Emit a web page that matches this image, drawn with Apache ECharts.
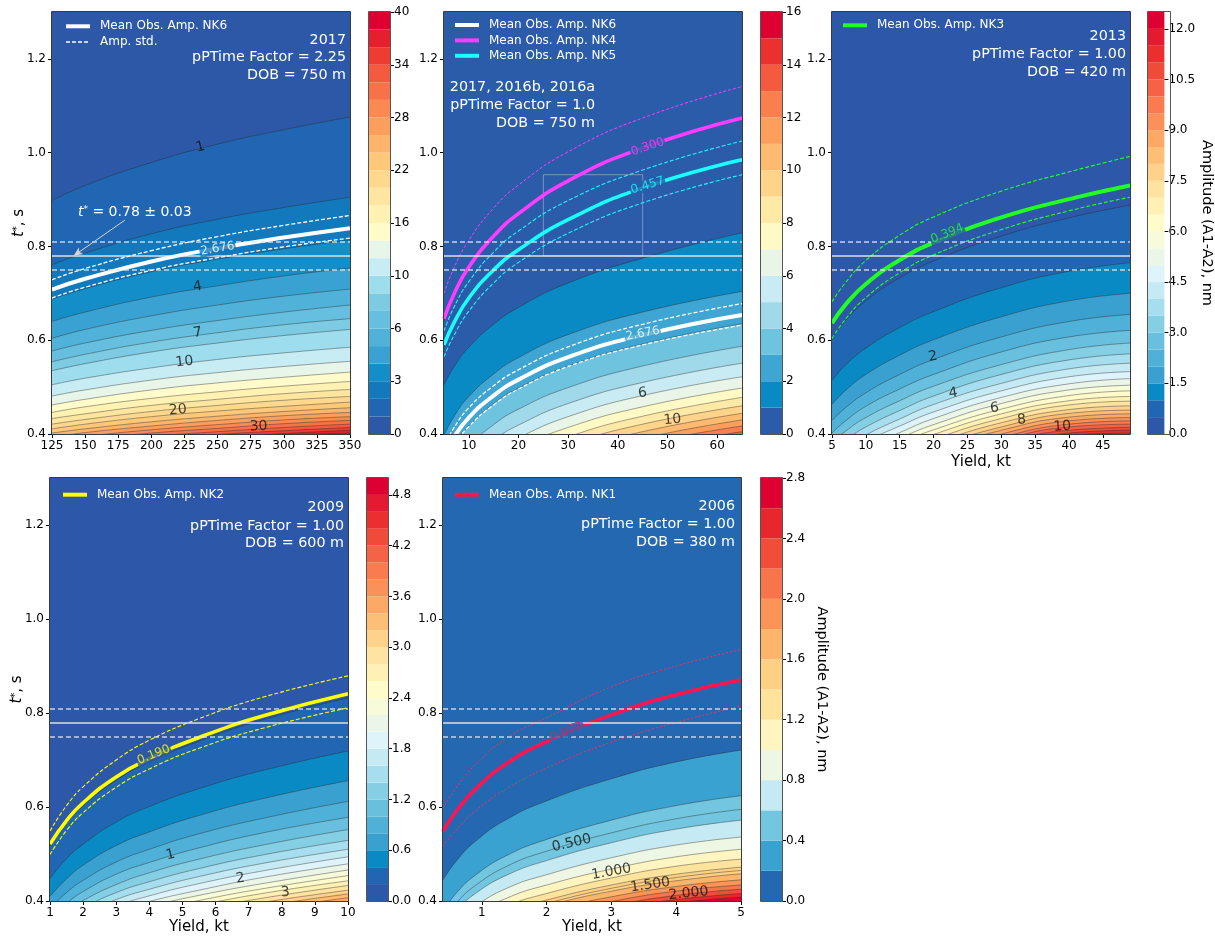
<!DOCTYPE html>
<html>
<head>
<meta charset="utf-8">
<title>t* versus yield</title>
<script src="https://cdn.jsdelivr.net/npm/echarts@6/dist/echarts.min.js"></script>
<style>
html, body { margin: 0; padding: 0; background: #fff; }
#chart { width: 1215px; height: 936px; }
</style>
</head>
<body>
<div id="chart"></div>
<script>
var FONT = 'DejaVu Sans';

// observed t* and its spread (horizontal lines in every panel)
var tStarObs = 0.78;
var tStarStd = 0.03;
var tTicks = [0.4, 0.6, 0.8, 1.0, 1.2];

// ---------- panel 1 : 2017, pPTime factor 2.25 ----------
var p1Yield = [125, 150, 200, 250, 300, 350];
var p1XTicks = [125, 150, 175, 200, 225, 250, 275, 300, 325, 350];
var p1Levels = [0, 1, 2, 3, 4, 5, 6, 7, 8, 10, 12, 14, 16, 18, 20, 22, 24, 26, 28, 30, 32, 34, 36, 38, 40];
// t* of each contour (levels 1 .. 38) at p1Yield
var p1Contours = [
    [0.898, 0.930, 0.979, 1.018, 1.049, 1.076],
    [0.761, 0.786, 0.827, 0.858, 0.883, 0.905],
    [0.688, 0.710, 0.746, 0.773, 0.795, 0.814],
    [0.640, 0.660, 0.692, 0.716, 0.737, 0.754],
    [0.604, 0.623, 0.652, 0.675, 0.694, 0.709],
    [0.577, 0.594, 0.621, 0.642, 0.660, 0.675],
    [0.554, 0.570, 0.596, 0.616, 0.633, 0.646],
    [0.535, 0.550, 0.575, 0.594, 0.610, 0.623],
    [0.505, 0.519, 0.541, 0.559, 0.573, 0.585],
    [0.481, 0.494, 0.515, 0.531, 0.544, 0.555],
    [0.462, 0.474, 0.494, 0.509, 0.521, 0.532],
    [0.446, 0.458, 0.476, 0.490, 0.502, 0.512],
    [0.433, 0.443, 0.461, 0.474, 0.486, 0.495],
    [0.421, 0.431, 0.448, 0.461, 0.472, 0.480],
    [0.411, 0.421, 0.437, 0.449, 0.459, 0.468],
    [0.402, 0.411, 0.426, 0.438, 0.448, 0.456],
    [0.393, 0.403, 0.417, 0.429, 0.439, 0.446],
    [0.386, 0.395, 0.409, 0.420, 0.430, 0.437],
    [0.380, 0.388, 0.402, 0.412, 0.422, 0.429],
    [0.373, 0.382, 0.395, 0.405, 0.414, 0.421],
    [0.368, 0.376, 0.389, 0.399, 0.407, 0.414],
    [0.363, 0.370, 0.383, 0.393, 0.401, 0.408],
    [0.358, 0.366, 0.378, 0.387, 0.395, 0.402]
];
var p1Nk6 = [0.708, 0.731, 0.768, 0.796, 0.819, 0.839];
var p1Nk6Hi = [0.729, 0.753, 0.791, 0.821, 0.845, 0.866];
var p1Nk6Lo = [0.690, 0.713, 0.749, 0.776, 0.799, 0.818];
var p1LabelText = ['1', '4', '7', '10', '20', '30', '2.676'];
var p1LabelAt = [[237, 1.012], [235, 0.714], [235, 0.616], [225, 0.554], [220, 0.451], [281, 0.416], [250, 0.795]];
var p1Arrow = [[180, 0.856], [141.4, 0.78]];

// ---------- panel 2 : 2017, 2016b, 2016a, pPTime factor 1.0 ----------
var p2Yield = [5, 7, 10, 15, 20, 30, 45, 65];
var p2XTicks = [10, 20, 30, 40, 50, 60];
var p2Levels = [0, 1, 2, 3, 4, 5, 6, 7, 8, 9, 10, 11, 12, 13, 14, 15, 16];
var p2Contours = [
    [0.504, 0.543, 0.585, 0.634, 0.670, 0.722, 0.775, 0.829],
    [0.397, 0.437, 0.480, 0.528, 0.563, 0.612, 0.660, 0.704],
    [0.337, 0.376, 0.417, 0.465, 0.498, 0.545, 0.592, 0.635],
    [0.296, 0.334, 0.374, 0.420, 0.453, 0.499, 0.545, 0.587],
    [0.264, 0.302, 0.342, 0.387, 0.419, 0.465, 0.510, 0.551],
    [0.240, 0.277, 0.316, 0.361, 0.392, 0.437, 0.482, 0.522],
    [0.219, 0.255, 0.294, 0.338, 0.370, 0.414, 0.458, 0.498],
    [0.201, 0.237, 0.276, 0.320, 0.351, 0.394, 0.438, 0.478],
    [0.186, 0.222, 0.260, 0.303, 0.334, 0.377, 0.421, 0.460],
    [0.172, 0.208, 0.246, 0.289, 0.319, 0.362, 0.405, 0.444],
    [0.160, 0.195, 0.233, 0.276, 0.306, 0.348, 0.391, 0.430],
    [0.149, 0.184, 0.221, 0.264, 0.294, 0.336, 0.379, 0.417],
    [0.139, 0.174, 0.211, 0.253, 0.283, 0.325, 0.367, 0.405],
    [0.129, 0.164, 0.201, 0.243, 0.273, 0.315, 0.357, 0.395]
];
var p2Nk6 = [0.353, 0.393, 0.435, 0.482, 0.516, 0.564, 0.611, 0.654];
var p2Nk6Hi = [0.373, 0.413, 0.456, 0.503, 0.537, 0.586, 0.634, 0.678];
var p2Nk6Lo = [0.335, 0.374, 0.416, 0.462, 0.496, 0.544, 0.590, 0.632];
var p2Nk4 = [0.646, 0.698, 0.756, 0.822, 0.870, 0.940, 1.010, 1.074];
var p2Nk4Hi = [0.700, 0.754, 0.813, 0.882, 0.931, 1.002, 1.074, 1.141];
var p2Nk5 = [0.590, 0.637, 0.690, 0.750, 0.793, 0.857, 0.925, 0.985];
var p2Nk5Hi = [0.620, 0.670, 0.725, 0.788, 0.833, 0.898, 0.963, 1.025];
var p2Nk5Lo = [0.565, 0.610, 0.662, 0.722, 0.766, 0.828, 0.893, 0.953];
var p2Box = [[25, 0.78], [25, 0.953], [45, 0.953], [45, 0.78], [25, 0.78]];
var p2LabelText = ['0.300', '0.457', '2.676', '6', '10'];
var p2LabelAt = [[46, 1.012], [46, 0.930], [45, 0.614], [45, 0.487], [51, 0.430]];

// ---------- panel 3 : 2013 ----------
var p3Yield = [5, 7, 10, 15, 20, 30, 40, 49];
var p3XTicks = [5, 10, 15, 20, 25, 30, 35, 40, 45];
var p3Levels = [0, 0.5, 1, 1.5, 2, 2.5, 3, 3.5, 4, 4.5, 5, 5.5, 6, 6.5, 7, 7.5, 8, 8.5, 9, 9.5, 10, 10.5, 11, 11.5, 12, 12.5];
var p3Contours = [
    [0.604, 0.642, 0.684, 0.733, 0.769, 0.822, 0.861, 0.888],
    [0.514, 0.547, 0.583, 0.627, 0.661, 0.712, 0.747, 0.765],
    [0.463, 0.493, 0.527, 0.568, 0.601, 0.650, 0.684, 0.700],
    [0.429, 0.456, 0.488, 0.527, 0.559, 0.607, 0.640, 0.655],
    [0.402, 0.428, 0.459, 0.496, 0.527, 0.575, 0.607, 0.621],
    [0.381, 0.406, 0.435, 0.471, 0.502, 0.548, 0.580, 0.594],
    [0.363, 0.387, 0.415, 0.450, 0.481, 0.527, 0.558, 0.571],
    [0.348, 0.371, 0.398, 0.432, 0.463, 0.508, 0.539, 0.551],
    [0.335, 0.357, 0.384, 0.417, 0.447, 0.492, 0.522, 0.533],
    [0.323, 0.345, 0.371, 0.403, 0.433, 0.478, 0.507, 0.518],
    [0.313, 0.334, 0.359, 0.391, 0.420, 0.465, 0.494, 0.504],
    [0.304, 0.324, 0.348, 0.380, 0.409, 0.453, 0.482, 0.492],
    [0.295, 0.315, 0.339, 0.370, 0.399, 0.443, 0.471, 0.480],
    [0.287, 0.306, 0.330, 0.360, 0.389, 0.433, 0.462, 0.470],
    [0.280, 0.299, 0.322, 0.352, 0.380, 0.424, 0.452, 0.460],
    [0.273, 0.291, 0.314, 0.344, 0.372, 0.415, 0.444, 0.451],
    [0.266, 0.285, 0.307, 0.336, 0.365, 0.408, 0.436, 0.443],
    [0.260, 0.278, 0.300, 0.329, 0.357, 0.400, 0.428, 0.435],
    [0.255, 0.272, 0.294, 0.323, 0.351, 0.393, 0.421, 0.428],
    [0.250, 0.267, 0.288, 0.316, 0.344, 0.387, 0.415, 0.421],
    [0.245, 0.262, 0.283, 0.311, 0.338, 0.381, 0.408, 0.414],
    [0.240, 0.256, 0.277, 0.305, 0.333, 0.375, 0.402, 0.408],
    [0.235, 0.252, 0.272, 0.300, 0.327, 0.369, 0.397, 0.402],
    [0.231, 0.247, 0.267, 0.294, 0.322, 0.364, 0.391, 0.396]
];
var p3Nk3 = [0.636, 0.676, 0.720, 0.771, 0.808, 0.862, 0.901, 0.930];
var p3Nk3Hi = [0.682, 0.723, 0.770, 0.824, 0.863, 0.918, 0.959, 0.992];
var p3Nk3Lo = [0.604, 0.645, 0.691, 0.744, 0.782, 0.836, 0.876, 0.905];
var p3LabelText = ['0.394', '2', '4', '6', '8', '10'];
var p3LabelAt = [[22, 0.827], [19.9, 0.565], [22.9, 0.487], [29, 0.455], [33, 0.430], [39, 0.416]];

// ---------- panel 4 : 2009 ----------
var p4Yield = [1, 1.5, 2, 3, 4, 5.5, 7.5, 10];
var p4XTicks = [1, 2, 3, 4, 5, 6, 7, 8, 9, 10];
var p4Levels = [0, 0.2, 0.4, 0.6, 0.8, 1.0, 1.2, 1.4, 1.6, 1.8, 2.0, 2.2, 2.4, 2.6, 2.8, 3.0, 3.2, 3.4, 3.6, 3.8, 4.0, 4.2, 4.4, 4.6, 4.8, 5.0];
var p4Contours = [
    [0.516, 0.565, 0.603, 0.657, 0.696, 0.740, 0.787, 0.832],
    [0.448, 0.490, 0.521, 0.568, 0.601, 0.639, 0.679, 0.719],
    [0.410, 0.447, 0.476, 0.518, 0.547, 0.582, 0.619, 0.656],
    [0.384, 0.418, 0.444, 0.483, 0.510, 0.543, 0.577, 0.612],
    [0.364, 0.395, 0.420, 0.457, 0.482, 0.513, 0.546, 0.578],
    [0.348, 0.378, 0.401, 0.435, 0.460, 0.489, 0.520, 0.552],
    [0.335, 0.363, 0.385, 0.418, 0.441, 0.469, 0.499, 0.529],
    [0.323, 0.350, 0.371, 0.403, 0.425, 0.452, 0.481, 0.510],
    [0.313, 0.339, 0.359, 0.389, 0.411, 0.437, 0.465, 0.494],
    [0.304, 0.329, 0.349, 0.378, 0.399, 0.423, 0.451, 0.479],
    [0.297, 0.320, 0.339, 0.367, 0.388, 0.412, 0.438, 0.466],
    [0.289, 0.312, 0.331, 0.358, 0.377, 0.401, 0.427, 0.454],
    [0.283, 0.305, 0.323, 0.349, 0.368, 0.391, 0.417, 0.443],
    [0.277, 0.298, 0.315, 0.341, 0.360, 0.382, 0.407, 0.433],
    [0.271, 0.292, 0.309, 0.334, 0.352, 0.374, 0.398, 0.423],
    [0.266, 0.286, 0.303, 0.327, 0.345, 0.366, 0.390, 0.415],
    [0.261, 0.281, 0.297, 0.321, 0.338, 0.359, 0.382, 0.407],
    [0.257, 0.275, 0.291, 0.315, 0.332, 0.352, 0.375, 0.399]
];
var p4Nk2 = [0.521, 0.571, 0.609, 0.664, 0.703, 0.748, 0.795, 0.841];
var p4Nk2Hi = [0.549, 0.603, 0.643, 0.700, 0.742, 0.788, 0.835, 0.879];
var p4Nk2Lo = [0.499, 0.550, 0.588, 0.642, 0.681, 0.725, 0.769, 0.811];
var p4LabelText = ['0.190', '1', '2', '3'];
var p4LabelAt = [[4.13, 0.711], [4.64, 0.498], [6.75, 0.448], [8.11, 0.418]];

// ---------- panel 5 : 2006 ----------
var p5Yield = [0.4, 0.6, 0.9, 1.4, 2.0, 3.0, 4.0, 5.0];
var p5XTicks = [1, 2, 3, 4, 5];
var p5Levels = [0, 0.2, 0.4, 0.6, 0.8, 1.0, 1.2, 1.4, 1.6, 1.8, 2.0, 2.2, 2.4, 2.6, 2.8];
var p5Contours = [
    [0.445, 0.484, 0.527, 0.575, 0.613, 0.660, 0.696, 0.721],
    [0.378, 0.416, 0.455, 0.498, 0.531, 0.572, 0.603, 0.624],
    [0.342, 0.378, 0.416, 0.456, 0.486, 0.524, 0.553, 0.572],
    [0.318, 0.353, 0.389, 0.428, 0.456, 0.492, 0.519, 0.536],
    [0.300, 0.335, 0.370, 0.407, 0.434, 0.468, 0.494, 0.510],
    [0.285, 0.320, 0.354, 0.390, 0.416, 0.449, 0.474, 0.489],
    [0.274, 0.308, 0.341, 0.377, 0.402, 0.434, 0.457, 0.472],
    [0.264, 0.297, 0.331, 0.365, 0.390, 0.421, 0.443, 0.458],
    [0.255, 0.289, 0.321, 0.355, 0.379, 0.409, 0.431, 0.445],
    [0.247, 0.281, 0.313, 0.346, 0.370, 0.399, 0.421, 0.434],
    [0.241, 0.274, 0.306, 0.339, 0.362, 0.390, 0.412, 0.425],
    [0.235, 0.268, 0.299, 0.332, 0.354, 0.383, 0.403, 0.416],
    [0.229, 0.262, 0.294, 0.326, 0.347, 0.375, 0.396, 0.408]
];
// labelled line-only contours 0.5 and 1.5
var p5ExtraLines = [
    [0.358, 0.395, 0.433, 0.475, 0.506, 0.545, 0.575, 0.595],
    [0.268, 0.302, 0.336, 0.371, 0.395, 0.427, 0.450, 0.465]
];
var p5Nk1 = [0.548, 0.590, 0.638, 0.694, 0.739, 0.796, 0.839, 0.870];
var p5Nk1Hi = [0.597, 0.640, 0.690, 0.748, 0.790, 0.856, 0.900, 0.935];
var p5Nk1Lo = [0.517, 0.550, 0.592, 0.640, 0.683, 0.738, 0.780, 0.815];
var p5LabelText = ['0.077', '0.500', '1.000', '1.500', '2.000'];
var p5LabelAt = [[2.31, 0.760], [2.385, 0.523], [3.0, 0.462], [3.6, 0.434], [4.19, 0.416]];

// ---------- colours of the filled bands ----------
var pal1 = ['#2c58a7', '#2166b3', '#1279bd', '#138ec8', '#3aa2d2', '#50b1d9', '#66bfde', '#7ccbe3', '#9edded',
    '#c8ecf4', '#e8f5e9', '#fffbca', '#fff2b2', '#fee6a0', '#fed98d', '#fec87b', '#fdb46b', '#fc9f5d', '#fb8a52',
    '#f77249', '#f35a3e', '#ee3c32', '#e61f2e', '#de0030'];
var pal2 = ['#2b5ca9', '#0a8ac4', '#3fa5d2', '#6ec3df', '#9fd9ea', '#c9ebf3', '#e9f5e6', '#fffac5', '#fee9a6',
    '#fed48b', '#fdbb72', '#fc9e5c', '#f97f4f', '#f35a3e', '#ec302e', '#de0030'];
var pal3 = ['#2d57a8', '#2166b3', '#0a8ac4', '#3aa0d0', '#4fb0d8', '#69c0de', '#85cfe4', '#a6def0', '#c6eaf4',
    '#dff4fa', '#ebf6e9', '#f7fbd9', '#fffbcb', '#fff1b3', '#fee4a0', '#fed28a', '#fdbe75', '#fda865', '#fb915a',
    '#f97b4f', '#f56245', '#f04b38', '#ea2f2e', '#e41a30', '#dd0030'];
var pal5 = ['#2468b2', '#3aa2d0', '#72c6e0', '#c5eaf3', '#eef7e3', '#fff5c0', '#fee39d', '#fed084', '#fdb46b',
    '#fb9456', '#f8744a', '#f04d3a', '#e8272d', '#de0030'];

var plotBox = [
    { left: 52, top: 12, width: 298, height: 422 },
    { left: 444, top: 12, width: 298, height: 422 },
    { left: 832, top: 12, width: 298, height: 422 },
    { left: 50, top: 478, width: 298, height: 423 },
    { left: 443, top: 478, width: 298, height: 423 }
];
var barBox = [
    { left: 369, top: 12, width: 21, height: 422 },
    { left: 761, top: 12, width: 21, height: 422 },
    { left: 1148, top: 12, width: 22, height: 422 },
    { left: 367, top: 478, width: 21, height: 423 },
    { left: 761, top: 478, width: 21, height: 423 }
];

var DASH = [4, 2];
var SMOOTH = 0.5;
var panels = [
    {
        xs: p1Yield, rows: p1Contours, levels: p1Levels, pal: pal1, xMin: 125, xMax: 350, xTicks: p1XTicks,
        yName: true, xNameGap: 0, cbStep: 3, cbDigits: 0, cbName: false,
        curves: [
            { y: p1Nk6, name: 'Mean Obs. Amp. NK6', color: '#ffffff', width: 4, ref: true },
            { y: p1Nk6Hi, name: 'Amp. std.', color: '#ffffff', width: 1.3, dash: DASH },
            { y: p1Nk6Lo, color: '#ffffff', width: 1.3, dash: DASH }
        ],
        labels: { text: p1LabelText, at: p1LabelAt, rot: [14, 9, 8, 7, 5, 3, 10],
            color: ['#111', '#111', '#111', '#111', '#111', '#111', '#fff'],
            size: [14, 14, 14, 14, 14, 14, 12], bg: [null, null, null, null, null, null, pal1[2]] },
        legend: { left: 59, top: 15.3, gap: 3.7, items: [['Mean Obs. Amp. NK6', 4], ['Amp. std.', 1.5]] },
        note: { x: 346, y: [40, 57.5, 75.2], text: ['2017', 'pPTime Factor = 2.25', 'DOB = 750 m'] }
    },
    {
        xs: p2Yield, rows: p2Contours, levels: p2Levels, pal: pal2, xMin: 5, xMax: 65, xTicks: p2XTicks,
        yName: false, xNameGap: 0, cbStep: 2, cbDigits: 0, cbName: false,
        curves: [
            { y: p2Nk6, name: 'Mean Obs. Amp. NK6', color: '#ffffff', width: 4, ref: true },
            { y: p2Nk6Hi, color: '#ffffff', width: 1.3, dash: DASH },
            { y: p2Nk6Lo, color: '#ffffff', width: 1.3, dash: DASH },
            { y: p2Nk4Hi, color: '#ff3cff', width: 1, dash: [3, 2] },
            { y: p2Nk5Hi, color: '#22f4ff', width: 1.1, dash: DASH },
            { y: p2Nk5Lo, color: '#22f4ff', width: 1.1, dash: DASH },
            { y: p2Nk4, name: 'Mean Obs. Amp. NK4', color: '#ff3cff', width: 3.6 },
            { y: p2Nk5, name: 'Mean Obs. Amp. NK5', color: '#19ffff', width: 3.6 }
        ],
        box: p2Box,
        labels: { text: p2LabelText, at: p2LabelAt, rot: [19, 17, 11, 6, 5],
            color: ['#ff3cff', '#19ffff', '#fff', '#111', '#111'], size: [12, 12, 12, 14, 14],
            bg: [pal2[0], pal2[0], pal2[2], null, null] },
        legend: { left: 448, top: 14, gap: 3.4,
            items: [['Mean Obs. Amp. NK6', 4], ['Mean Obs. Amp. NK4', 4], ['Mean Obs. Amp. NK5', 4]] },
        note: { x: 595, y: [87.5, 105.6, 123.2], text: ['2017, 2016b, 2016a', 'pPTime Factor = 1.0', 'DOB = 750 m'] }
    },
    {
        xs: p3Yield, rows: p3Contours, levels: p3Levels, pal: pal3, xMin: 5, xMax: 49, xTicks: p3XTicks,
        yName: false, xNameGap: 21, cbStep: 3, cbDigits: 1, cbName: true, cbNameGap: 30,
        curves: [
            { y: p3Nk3Hi, color: '#22ff22', width: 1.1, dash: DASH, ref: true },
            { y: p3Nk3Lo, color: '#22ff22', width: 1.1, dash: DASH },
            { y: p3Nk3, name: 'Mean Obs. Amp. NK3', color: '#22ff22', width: 4 }
        ],
        labels: { text: p3LabelText, at: p3LabelAt, rot: [22, 10, 8, 6, 5, 4],
            color: ['#22ff22', '#111', '#111', '#111', '#111', '#111'], size: [12, 14, 14, 14, 14, 14],
            bg: [pal3[0], null, null, null, null, null] },
        legend: { left: 836, top: 14.3, gap: 4, items: [['Mean Obs. Amp. NK3', 4]] },
        note: { x: 1126, y: [35.8, 54, 71.8], text: ['2013', 'pPTime Factor = 1.00', 'DOB = 420 m'] }
    },
    {
        xs: p4Yield, rows: p4Contours, levels: p4Levels, pal: pal3, xMin: 1, xMax: 10, xTicks: p4XTicks,
        yName: true, xNameGap: 17, cbStep: 3, cbDigits: 1, cbName: false,
        curves: [
            { y: p4Nk2Hi, color: '#ffff00', width: 1.1, dash: DASH, ref: true },
            { y: p4Nk2Lo, color: '#ffff00', width: 1.1, dash: DASH },
            { y: p4Nk2, name: 'Mean Obs. Amp. NK2', color: '#ffff00', width: 3.6 }
        ],
        labels: { text: p4LabelText, at: p4LabelAt, rot: [22, 14, 8, 5],
            color: ['#ffff00', '#111', '#111', '#111'], size: [12, 14, 14, 14], bg: [pal3[0], null, null, null] },
        legend: { left: 56, top: 483.7, gap: 4, items: [['Mean Obs. Amp. NK2', 4]] },
        note: { x: 344, y: [507.5, 525.8, 543.5], text: ['2009', 'pPTime Factor = 1.00', 'DOB = 600 m'] }
    },
    {
        xs: p5Yield, rows: p5Contours, levels: p5Levels, pal: pal5, xMin: 0.4, xMax: 5, xTicks: p5XTicks,
        yName: false, xNameGap: 17, cbStep: 2, cbDigits: 1, cbName: true, cbNameGap: 32,
        extraLines: p5ExtraLines,
        curves: [
            { y: p5Nk1Hi, color: '#ff2a5a', width: 1, dash: [2, 2], ref: true },
            { y: p5Nk1Lo, color: '#ff2a5a', width: 1, dash: [2, 2] },
            { y: p5Nk1, name: 'Mean Obs. Amp. NK1', color: '#ff1450', width: 3.6 }
        ],
        labels: { text: p5LabelText, at: p5LabelAt, rot: [20, 13, 10, 8, 6],
            color: ['#ff1450', '#111', '#111', '#111', '#111'], size: [12, 14, 14, 14, 14],
            bg: [pal5[0], null, null, null, null] },
        legend: { left: 448, top: 483.7, gap: 4, items: [['Mean Obs. Amp. NK1', 4]] },
        note: { x: 735, y: [505.8, 524, 541.8], text: ['2006', 'pPTime Factor = 1.00', 'DOB = 380 m'] }
    }
];

var tStarName = {
    fontSize: 15, color: '#000',
    rich: {
        i: { fontSize: 15, fontStyle: 'italic', color: '#000' },
        s: { fontSize: 10, verticalAlign: 'top', color: '#000' },
        n: { fontSize: 15, color: '#000' }
    }
};

var option = {
    animation: false,
    backgroundColor: '#ffffff',
    textStyle: { fontFamily: FONT },
    grid: [], xAxis: [], yAxis: [], series: [], legend: [],
    graphic: { elements: [] }
};

panels.forEach(function (p, i) {
    var b = plotBox[i];
    var xs = p.xs;
    function pts(ys) {
        return xs.map(function (x, k) { return [x, ys[k]]; });
    }

    // ---- plot axes ----
    option.grid.push({ left: b.left, top: b.top, width: b.width, height: b.height,
        show: true, backgroundColor: p.pal[0], borderWidth: 0 });
    option.xAxis.push({
        gridIndex: i, type: 'value', min: p.xMin, max: p.xMax,
        name: p.xNameGap ? 'Yield, kt' : '', nameLocation: 'middle', nameGap: p.xNameGap,
        nameTextStyle: { fontSize: 15, color: '#000' },
        axisLine: { show: false }, splitLine: { show: false },
        axisTick: { show: true, length: 4, customValues: p.xTicks, lineStyle: { color: '#000', width: 1 } },
        axisLabel: { show: true, customValues: p.xTicks, fontSize: 12, color: '#000', margin: 6 }
    });
    option.yAxis.push({
        gridIndex: i, type: 'value', min: 0.4, max: 1.3,
        name: p.yName ? '{i|t}{s|*}{n|, s}' : '', nameLocation: 'middle', nameRotate: 90, nameGap: 25,
        nameMoveOverlap: false,
        nameTextStyle: tStarName,
        axisLine: { show: false }, splitLine: { show: false },
        axisTick: { show: true, length: 4, customValues: tTicks, lineStyle: { color: '#000', width: 1 } },
        axisLabel: { show: true, customValues: tTicks, fontSize: 12, color: '#000', margin: 6,
            formatter: function (v) { return v.toFixed(1); } }
    });

    // ---- filled contour bands, one per level, painted from the top down ----
    p.rows.forEach(function (row, k) {
        option.series.push({
            type: 'line', xAxisIndex: i, yAxisIndex: i, silent: true, z: 2,
            data: pts(row), smooth: SMOOTH, symbol: 'none',
            lineStyle: { color: 'rgba(40,40,40,0.6)', width: 0.7 },
            areaStyle: { color: p.pal[k + 1], opacity: 1, origin: 'start' }
        });
    });
    (p.extraLines || []).forEach(function (row) {
        option.series.push({
            type: 'line', xAxisIndex: i, yAxisIndex: i, silent: true, z: 2,
            data: pts(row), smooth: SMOOTH, symbol: 'none',
            lineStyle: { color: 'rgba(40,40,40,0.6)', width: 0.7 }
        });
    });

    if (p.box) {
        option.series.push({
            type: 'line', xAxisIndex: i, yAxisIndex: i, silent: true, z: 3, data: p.box,
            symbol: 'none', lineStyle: { color: 'rgba(215,215,215,0.45)', width: 1 }
        });
    }

    // ---- observed amplitude curves ----
    p.curves.forEach(function (c) {
        var s = {
            type: 'line', name: c.name, xAxisIndex: i, yAxisIndex: i, silent: true, z: 4,
            data: pts(c.y), smooth: SMOOTH, symbol: 'none',
            itemStyle: { color: c.color },
            lineStyle: { color: c.color, width: c.width, type: c.dash || 'solid' }
        };
        if (c.ref) {
            var ml = [
                { yAxis: tStarObs, lineStyle: { color: 'rgba(238,238,238,0.9)', width: 1.6, type: 'solid' } },
                { yAxis: tStarObs + tStarStd, lineStyle: { color: 'rgba(230,230,230,0.85)', width: 1.5, type: [5, 3] } },
                { yAxis: tStarObs - tStarStd, lineStyle: { color: 'rgba(230,230,230,0.85)', width: 1.5, type: [5, 3] } }
            ];
            if (i === 0) {
                ml.push([
                    { coord: p1Arrow[0], symbol: 'none' },
                    { coord: p1Arrow[1], symbol: 'arrow', symbolSize: [6, 9],
                        lineStyle: { color: '#d6d6d6', width: 1, type: 'solid' } }
                ]);
            }
            s.markLine = { silent: true, symbol: ['none', 'none'], label: { show: false },
                animation: false, data: ml };
        }
        option.series.push(s);
    });

    // ---- inline contour labels ----
    var L = p.labels;
    option.series.push({
        type: 'scatter', xAxisIndex: i, yAxisIndex: i, silent: true, z: 6,
        symbolSize: 1, itemStyle: { color: 'rgba(0,0,0,0)' },
        label: { show: true, position: 'inside' },
        data: L.text.map(function (t, k) {
            return {
                value: L.at[k],
                label: { show: true, position: 'inside', formatter: t, rotate: L.rot[k], color: L.color[k],
                    fontSize: L.size[k], fontFamily: FONT,
                    backgroundColor: L.bg[k] || 'transparent', padding: L.bg[k] ? [0, 1] : 0 }
            };
        })
    });

    // ---- legend inside the axes ----
    option.legend.push({
        left: p.legend.left, top: p.legend.top, orient: 'vertical', selectedMode: false,
        itemWidth: 24, itemHeight: 14, itemGap: p.legend.gap,
        itemStyle: { opacity: 0 },
        textStyle: { color: '#ffffff', fontSize: 12, fontFamily: FONT, padding: [0, 0, 0, 5] },
        data: p.legend.items.map(function (it) {
            return { name: it[0], itemStyle: { opacity: 0 }, lineStyle: { width: it[1] } };
        })
    });

    // ---- event text ----
    p.note.text.forEach(function (t, k) {
        option.graphic.elements.push({
            type: 'text', x: p.note.x, y: p.note.y[k], z: 100, silent: true,
            style: { text: t, align: 'right', verticalAlign: 'middle', fill: '#ffffff',
                fontSize: 14.3, fontFamily: FONT }
        });
    });

    // ---- frames ----
    option.graphic.elements.push({
        type: 'rect', z: 100, silent: true,
        shape: { x: b.left - 0.5, y: b.top - 0.5, width: b.width + 1, height: b.height + 1 },
        style: { fill: 'none', stroke: '#3a3a3a', lineWidth: 1 }
    });
});

// ---- colour bars ----
panels.forEach(function (p, i) {
    var g = 5 + i;
    var b = barBox[i];
    var n = p.levels.length - 1;
    var ticks = [];
    for (var k = 0; k <= n; k += p.cbStep) { ticks.push(k); }
    option.grid.push({ left: b.left, top: b.top, width: b.width, height: b.height, show: false });
    option.xAxis.push({ gridIndex: g, type: 'category', data: [''], show: false });
    option.yAxis.push({
        gridIndex: g, type: 'value', position: 'right', min: 0, max: n,
        name: p.cbName ? 'Amplitude (A1-A2), nm' : '', nameLocation: 'middle', nameRotate: -90,
        nameGap: p.cbNameGap || 30, nameTextStyle: { fontSize: 14.5, color: '#000' },
        axisLine: { show: false }, splitLine: { show: false },
        axisTick: { show: true, length: 4, customValues: ticks, lineStyle: { color: '#000', width: 1 } },
        axisLabel: { show: true, customValues: ticks, fontSize: 12, color: '#000', margin: 4,
            formatter: function (v) { return p.levels[Math.round(v)].toFixed(p.cbDigits); } }
    });
    for (var j = 0; j < n; j++) {
        option.series.push({
            type: 'bar', xAxisIndex: g, yAxisIndex: g, stack: 'cb' + i, silent: true,
            barWidth: '100%', data: [1], itemStyle: { color: p.pal[j] }
        });
    }
    option.graphic.elements.push({
        type: 'rect', z: 100, silent: true,
        shape: { x: b.left - 0.5, y: b.top - 0.5, width: b.width + 1, height: b.height + 1 },
        style: { fill: 'none', stroke: '#555', lineWidth: 1 }
    });
});

// annotation of the observed t*
option.graphic.elements.push({
    type: 'text', x: 78, y: 212, z: 100, silent: true,
    style: {
        text: '{i|t}{s|*}{n| = 0.78 ± 0.03}', align: 'left', verticalAlign: 'middle',
        rich: {
            i: { fontSize: 14, fontStyle: 'italic', fill: '#fff', fontFamily: FONT },
            s: { fontSize: 9, verticalAlign: 'top', fill: '#fff', fontFamily: FONT },
            n: { fontSize: 14, fill: '#fff', fontFamily: FONT }
        }
    }
});

var chart = echarts.init(document.getElementById('chart'), null, { renderer: 'canvas' });
chart.setOption(option);
</script>
</body>
</html>
